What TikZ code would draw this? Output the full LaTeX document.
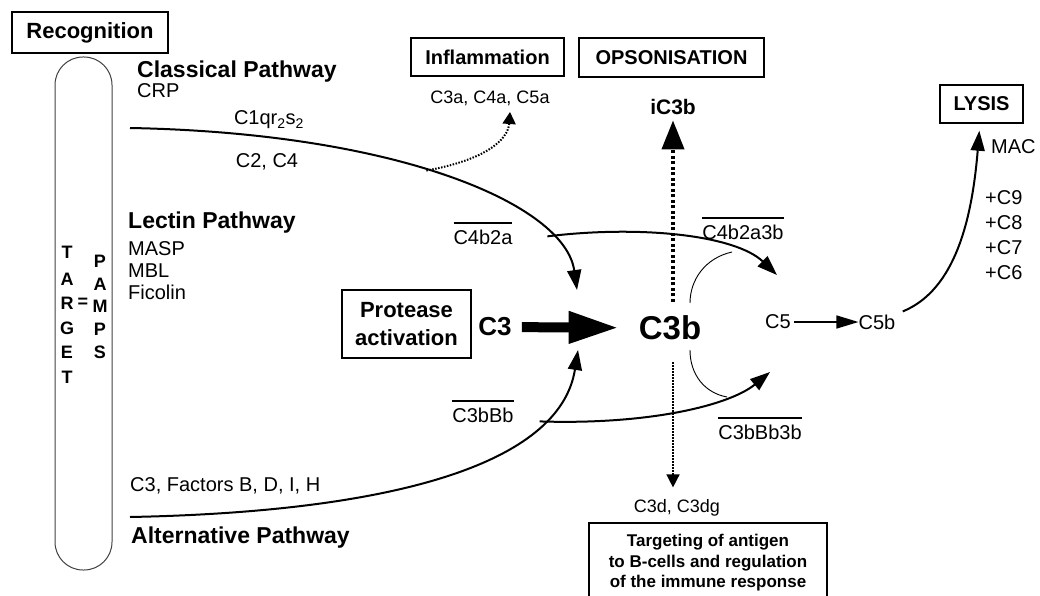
\documentclass[tikz,border=0pt]{standalone}
\usepackage{fontspec}
\setmainfont{Liberation Sans}
\usetikzlibrary{arrows.meta}
\newcommand\ovl[1]{\vbox{\hrule height 1.2pt\vskip 6pt\hbox{#1}}}
\newcommand\fsz[1]{\fontsize{#1}{#1}\selectfont}
\begin{document}
\begin{tikzpicture}[x=1pt,y=-1pt,
  txt/.style={inner sep=0pt, font=\fsz{20}},
  btxt/.style={inner sep=0pt, font=\bfseries\fsz{18}},
  pathway/.style={inner sep=0pt, font=\bfseries\fsz{23}, anchor=west},
  frame/.style={draw, line width=1.5pt, inner sep=0pt, font=\bfseries\fsz{20}},
  conn/.style={line width=2pt, -{Triangle[length=20pt,width=14pt]}},
  thinarc/.style={line width=0.9pt},
]
\useasboundingbox (0,0) rectangle (1040,596);

% recognition column
\node[frame, line width=2.5pt, minimum width=156pt, minimum height=41pt, font=\bfseries\fsz{22}] (rec) at (90,32.5) {Recognition};
\draw[black!75, line width=1pt, rounded corners=28pt] (55,57) rectangle (112,570);
\foreach \l/\y [count=\i] in {T/252,A/279,R/303,G/328,E/352,T/377}
  \node[btxt] (tg\i) at (67,\y) {\l};
\node[btxt] (eq) at (83,303) {=};
\foreach \l/\y [count=\i] in {P/261,A/284,M/306,P/329,S/352}
  \node[btxt] (pa\i) at (100,\y) {\l};

% pathway labels
\node[pathway] (classical) at (137,72) {Classical Pathway};
\node[txt, anchor=west] (crp) at (137,91) {CRP};
\node[txt] (c1q) at (269,120) {C1qr\textsubscript{2}s\textsubscript{2}};
\node[txt] (c2c4) at (267,162) {C2, C4};
\node[pathway] (lectin) at (128,223) {Lectin Pathway};
\node[txt, anchor=west] (masp) at (128,249) {MASP};
\node[txt, anchor=west] (mbl) at (128,271) {MBL};
\node[txt, anchor=west] (fic) at (128,292) {Ficolin};
\node[txt, anchor=west] (factors) at (130,486) {C3, Factors B, D, I, H};
\node[pathway] (alt) at (131,538) {Alternative Pathway};

% top boxes
\node[frame, minimum width=153pt, minimum height=38pt] (infl) at (487.5,57) {Inflammation};
\node[frame, minimum width=185pt, minimum height=39pt] (ops) at (671.5,57.5) {OPSONISATION};
\node[txt, font=\fsz{18}] (c3a) at (490,98) {C3a, C4a, C5a};
\node[btxt, font=\bfseries\fsz{21}] (ic3b) at (673,107) {iC3b};
\node[frame, minimum width=83pt, minimum height=38pt] (lysis) at (981.5,104) {LYSIS};
\node[txt, anchor=west] (mac) at (991,147) {MAC};
\node[txt, anchor=west] (c9) at (985,198) {+C9};
\node[txt, anchor=west] (c8) at (985,223) {+C8};
\node[txt, anchor=west] (c7) at (985,248) {+C7};
\node[txt, anchor=west] (c6) at (985,273) {+C6};

% centre
\node[frame, line width=2pt, minimum width=129pt, minimum height=68pt, font=\bfseries\fontsize{22}{28}\selectfont, align=center] (prot) at (406.5,324) {Protease\\activation};
\node[btxt, font=\bfseries\fsz{26}] (c3) at (495,327) {C3};
\node[btxt, font=\bfseries\fsz{33}] (c3b) at (670,328) {C3b};
\node[txt, anchor=base] (c4b2a) at (483,244) {\ovl{C4b2a}};
\node[txt, anchor=base] (c4b2a3b) at (743,239) {\ovl{C4b2a3b}};
\node[txt, anchor=base] (c3bbb) at (483,422) {\ovl{C3bBb}};
\node[txt, anchor=base] (c3bbb3b) at (760,439) {\ovl{C3bBb3b}};
\node[txt] (c5) at (778,322) {C5};
\node[txt] (c5b) at (877,322) {C5b};
\node[txt, font=\fsz{18}] (c3d) at (677,508) {C3d, C3dg};
\node[draw, line width=1.5pt, minimum width=238pt, minimum height=80pt, inner sep=0pt, align=center, font=\bfseries\fontsize{17}{20.5}\selectfont] (tgt) at (708,563) {Targeting of antigen\\to B-cells and regulation\\of the immune response};

% coordinates for free ends
\coordinate (cl0) at (130,128);
\coordinate (cltip) at (577,290);
\coordinate (al0) at (130,517);
\coordinate (altip) at (578,350);
\coordinate (inftip) at (510,112);
\coordinate (c5top) at (777,275);
\coordinate (c5bot) at (770,372);

% classical pathway
\draw[conn] (cl0) .. controls (400,133) and (565,205) .. coordinate[pos=0.45] (br0) coordinate[pos=0.78] (br1) (cltip);
% alternative pathway
\draw[conn] (al0) .. controls (390,512) and (560,465) .. coordinate[pos=0.76] (br2) (altip);
% convertases to C5
\draw[conn] (br1) .. controls (640,225) and (735,235) .. (c5top);
\draw[conn] (br2) .. controls (650,425) and (730,405) .. (c5bot);
% inflammation
\draw[line width=2pt, dash pattern=on 1.5pt off 1.5pt, -{Triangle[length=12pt,width=13pt]}] (br0) .. controls (485,160) and (508,140) .. (inftip);
% big C3 arrow
\draw[line width=10pt, -{Triangle[length=50pt,width=30pt]}, shorten <=10pt, shorten >=20pt] (c3) -- (c3b);
% opsonisation
\draw[line width=4pt, dash pattern=on 3pt off 2.5pt, -{Triangle[length=29pt,width=22pt]}, shorten <=14pt, shorten >=5.5pt] (c3b.north -| ic3b.south) -- (ic3b.south);
% C3d
\draw[line width=1.5pt, dash pattern=on 1.5pt off 1.5pt, -{Triangle[length=13pt,width=13pt]}, shorten <=22pt, shorten >=12pt] (c3b.south -| ic3b.south) -- (c3d.north -| ic3b.south);
% thin arcs
\draw[thinarc] (732,252) .. controls (705,258) and (690,280) .. (690,303);
\draw[thinarc] (690,350) .. controls (690,375) and (705,393) .. (727,397);
% C5 -> C5b -> lysis
\draw[line width=1.5pt, -{Triangle[length=22pt,width=13pt]}, shorten <=3pt] (c5) -- (c5b);
\draw[conn, shorten <=8pt, shorten >=7pt] (c5b) .. controls (955,290) and (972,220) .. (lysis);
\end{tikzpicture}
\end{document}
